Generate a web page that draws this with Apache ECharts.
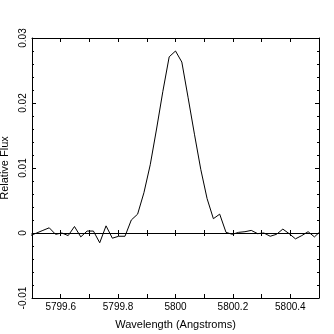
<!DOCTYPE html>
<html>
<head>
<meta charset="utf-8">
<script src="https://cdn.jsdelivr.net/npm/echarts@6/dist/echarts.min.js"></script>
<style>html,body{margin:0;padding:0;background:#fff}#c{width:334px;height:334px}</style>
</head>
<body>
<div id="c"></div>
<script>
const wavelengths = [
  5799.494, 5799.516, 5799.538, 5799.560, 5799.582, 5799.604, 5799.626, 5799.648,
  5799.670, 5799.692, 5799.714, 5799.736, 5799.758, 5799.780, 5799.802, 5799.824,
  5799.846, 5799.868, 5799.890, 5799.912, 5799.934, 5799.956, 5799.978, 5800.000,
  5800.022, 5800.044, 5800.066, 5800.088, 5800.110, 5800.132, 5800.154, 5800.176,
  5800.198, 5800.220, 5800.242, 5800.264, 5800.286, 5800.308, 5800.330, 5800.352,
  5800.374, 5800.396, 5800.418, 5800.440, 5800.462, 5800.484, 5800.506
];
const flux = [
  -0.0004, 0.0000, 0.0004, 0.0008, -0.0002, 0.0000, -0.0004, 0.0010,
  -0.0006, 0.0003, 0.0003, -0.0015, 0.0011, -0.0008, -0.0005, -0.0005,
  0.0020, 0.0029, 0.0062, 0.0105, 0.0160, 0.0218, 0.0271, 0.0280,
  0.0263, 0.0208, 0.0152, 0.0098, 0.0053, 0.0022, 0.0029, 0.0001,
  -0.0002, 0.0001, 0.0002, 0.0004, -0.0001, 0.0000, -0.0005, -0.0002,
  0.0006, -0.0001, -0.0009, -0.0004, 0.0002, -0.0006, 0.0003
];
const xMin = 5799.5, xMax = 5800.5, xStep = 0.1;
const yMin = -0.01, yMax = 0.03, yStep = 0.01;
const xTitle = 'Wavelength (Angstroms)';
const yTitle = 'Relative Flux';

const points = wavelengths.map((w, i) => [w, flux[i]]);
const FONT = 'Liberation Sans, Arial, sans-serif';
const black = '#000';

function xAx(extra) {
  return Object.assign({
    type: 'value', min: xMin, max: xMax, interval: xStep,
    splitLine: { show: false },
    axisLine: { show: true, onZero: false, lineStyle: { color: black, width: 1 } },
    axisTick: { show: true, inside: true, length: 4, lineStyle: { color: black } },
    axisLabel: { show: false }
  }, extra);
}
function yAx(extra) {
  return Object.assign({
    type: 'value', min: yMin, max: yMax, interval: yStep,
    splitLine: { show: false },
    axisLine: { show: true, onZero: false, lineStyle: { color: black, width: 1 } },
    axisTick: { show: true, inside: true, length: 4, lineStyle: { color: black } },
    minorTick: { show: true, splitNumber: 5, length: 2, lineStyle: { color: black } },
    axisLabel: { show: false }
  }, extra);
}

const chart = echarts.init(document.getElementById('c'), null, { renderer: 'canvas' });
chart.setOption({
  backgroundColor: '#fff',
  animation: false,
  grid: { left: 32, right: 15, top: 38, bottom: 36, containLabel: false, outerBoundsMode: 'none' },
  xAxis: [
    xAx({
      position: 'bottom',
      name: xTitle, nameLocation: 'middle', nameGap: 21,
      nameTextStyle: { color: black, fontSize: 11, fontFamily: FONT },
      axisLabel: {
        show: true, color: black, fontSize: 10, fontFamily: FONT, margin: 4,
        formatter: v => (Math.round(v * 10) % 2 === 0 ? String(+v.toFixed(1)) : '')
      }
    }),
    xAx({ position: 'top' }),
    xAx({ position: 'bottom', axisLine: { show: true, onZero: true, lineStyle: { color: black, width: 1 } },
          axisTick: { show: true, inside: true, length: 3, lineStyle: { color: black } } }),
    xAx({ position: 'bottom', axisLine: { show: false, onZero: true },
          axisTick: { show: true, inside: false, length: 3, lineStyle: { color: black } } })
  ],
  yAxis: [
    yAx({
      position: 'left',
      name: yTitle, nameLocation: 'middle', nameGap: 19, nameRotate: 90,
      nameTextStyle: { color: black, fontSize: 11, fontFamily: FONT },
      axisLabel: {
        show: true, color: black, fontSize: 10, fontFamily: FONT, margin: 4, rotate: 90,
        formatter: v => (Math.abs(v) < 1e-9 ? '0' : String(+v.toFixed(2)))
      }
    }),
    yAx({ position: 'right' })
  ],
  series: [{
    type: 'line', xAxisIndex: 0, yAxisIndex: 0,
    data: points, showSymbol: false, symbol: 'none', clip: true,
    lineStyle: { color: black, width: 1 }
  }]
});
</script>
</body>
</html>
